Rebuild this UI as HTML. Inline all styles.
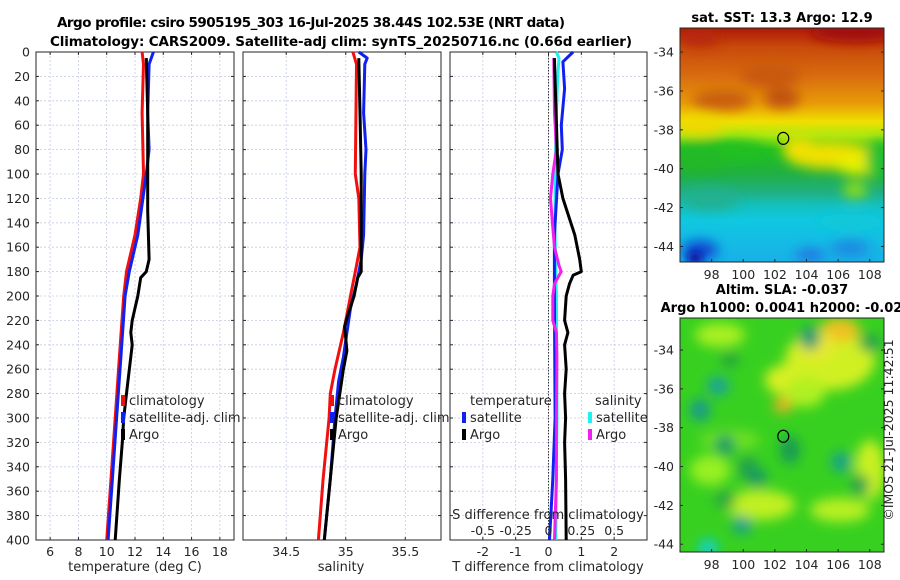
<!DOCTYPE html>
<html><head><meta charset="utf-8">
<style>
html,body{margin:0;padding:0;background:#fff;}
svg{display:block;font-family:"DejaVu Sans","Liberation Sans",sans-serif;}
</style></head>
<body>
<svg id="fig" width="900" height="580" viewBox="0 0 900 580" xmlns="http://www.w3.org/2000/svg">
<defs>
<filter id="blur6" x="-50%" y="-50%" width="200%" height="200%"><feGaussianBlur stdDeviation="6"/></filter>
<filter id="blur4" x="-50%" y="-50%" width="200%" height="200%"><feGaussianBlur stdDeviation="4"/></filter>
<linearGradient id="sstGrad" x1="0" y1="0" x2="0" y2="1">
<stop offset="0" stop-color="#b01808"/>
<stop offset="0.08" stop-color="#c84a0a"/>
<stop offset="0.2" stop-color="#d86a10"/>
<stop offset="0.32" stop-color="#e89a08"/>
<stop offset="0.4" stop-color="#f0e000"/>
<stop offset="0.46" stop-color="#a8e810"/>
<stop offset="0.52" stop-color="#20c020"/>
<stop offset="0.62" stop-color="#20b040"/>
<stop offset="0.7" stop-color="#20b080"/>
<stop offset="0.76" stop-color="#14c0c0"/>
<stop offset="0.82" stop-color="#10c8e0"/>
<stop offset="1" stop-color="#18b0e8"/>
</linearGradient>
<clipPath id="clipTop"><rect x="680" y="28" width="204" height="234"/></clipPath>
<clipPath id="clipBot"><rect x="680" y="318" width="204" height="234"/></clipPath>
</defs>
<g id="title">
<text x="311" y="27" font-size="13.5" font-weight="bold" text-anchor="middle" textLength="508">Argo profile: csiro 5905195_303 16-Jul-2025 38.44S 102.53E (NRT data)</text>
<text x="341" y="46" font-size="13.5" font-weight="bold" text-anchor="middle" textLength="582">Climatology: CARS2009. Satellite-adj clim: synTS_20250716.nc (0.66d earlier)</text>
</g>
<g id="panels"></g>
<g id="maps"></g>
</svg>
<script>
// ---------- data ----------
const depthTicks = [0,20,40,60,80,100,120,140,160,180,200,220,240,260,280,300,320,340,360,380,400];
const tempTicks = [6,8,10,12,14,16,18];
const salTicks = [34.5,35,35.5];
const tdiffTicks = [-2,-1,0,1,2];
const sdiffTickLabels = ['-0.5','-0.25','0','0.25','0.5'];
const sdiffTickValues = [-0.5,-0.25,0,0.25,0.5];

const tClimDepth = [0,10,50,100,120,150,180,200,250,300,350,400];
const tClimVal   = [12.5,12.6,12.5,12.6,12.4,12.0,11.4,11.2,10.9,10.6,10.3,10.0];
const tSatDepth  = [0,10,50,80,100,150,180,200,250,300,350,400];
const tSatVal    = [13.3,13.0,12.9,13.0,12.8,12.2,11.6,11.3,11.0,10.7,10.4,10.1];
const tArgoDepth = [5,50,100,130,170,180,185,200,210,220,230,240,250,270,300,320,350,400];
const tArgoVal   = [12.8,12.9,12.9,12.9,13.0,12.8,12.4,12.2,12.0,11.8,11.7,11.8,11.7,11.5,11.2,11.1,10.9,10.6];

const sClimDepth = [0,10,100,120,160,180,200,230,260,280,300,350,400];
const sClimVal   = [35.06,35.09,35.08,35.11,35.12,35.08,35.04,34.98,34.91,34.87,34.86,34.81,34.77];
const sSatDepth  = [0,5,10,50,80,100,150,170,190,210,230,250,270,300,350,400];
const sSatVal    = [35.11,35.18,35.16,35.15,35.17,35.16,35.15,35.13,35.09,35.04,35.01,34.98,34.94,34.91,34.87,34.82];
const sArgoDepth = [5,50,100,150,180,185,200,215,225,235,245,260,280,300,350,400];
const sArgoVal   = [35.11,35.12,35.13,35.13,35.13,35.10,35.07,35.02,34.99,35.0,35.01,34.98,34.95,34.92,34.87,34.82];

const dtSatDepth  = [0,8,30,60,80,100,150,200,300,350,400];
const dtSatVal    = [0.75,0.44,0.49,0.39,0.42,0.29,0.18,0.18,0.2,0.13,0.03];
const dtArgoDepth = [5,50,100,120,150,170,180,183,190,200,220,230,240,260,280,300,320,350,400];
const dtArgoVal   = [0.18,0.23,0.29,0.44,0.80,0.95,1.0,0.75,0.64,0.54,0.49,0.59,0.49,0.54,0.49,0.52,0.49,0.52,0.54];
const dsSatDepth  = [0,5,20,50,100,150,200,300,400];
const dsSatVal    = [0.06,0.08,0.07,0.06,0.05,0.05,0.06,0.065,0.055];
const dsArgoDepth = [5,50,80,100,120,140,160,175,180,190,200,220,230,250,300,350,400];
const dsArgoVal   = [0.04,0.046,0.06,0.033,0.015,0.03,0.046,0.08,0.097,0.046,0.033,0.033,0.06,0.064,0.06,0.06,0.046];

const lonTicks = [98,100,102,104,106,108];
const latTicks = [-34,-36,-38,-40,-42,-44];
const argoLon = 102.53, argoLat = -38.44;

// ---------- helpers ----------
const NS = 'http://www.w3.org/2000/svg';
function mk(tag, attrs, parent){const e=document.createElementNS(NS,tag);for(const k in attrs)e.setAttribute(k,attrs[k]);parent.appendChild(e);return e;}
const Y0=52, Y1=540;
const yD = d => Y0 + (d/400)*(Y1-Y0);
const panelsG = document.getElementById('panels');

function panel(name, x0, x1, xmin, xmax, xticks, xlabels, showDepth){
  const g = mk('g',{},panelsG);
  
  
  const xs = v => x0 + (v-xmin)/(xmax-xmin)*(x1-x0);
  depthTicks.forEach(d=>{ if(d>0&&d<400) mk('line',{x1:x0,x2:x1,y1:yD(d),y2:yD(d),stroke:'#c4cbe4','stroke-width':0.8,'stroke-dasharray':'2,2'},g);});
  xticks.forEach(v=>mk('line',{x1:xs(v),x2:xs(v),y1:Y0,y2:Y1,stroke:'#c4cbe4','stroke-width':0.8,'stroke-dasharray':'2,2'},g));
  depthTicks.forEach(d=>{mk('line',{x1:x0,x2:x0+3,y1:yD(d),y2:yD(d),stroke:'#262626'},g);mk('line',{x1:x1,x2:x1-3,y1:yD(d),y2:yD(d),stroke:'#262626'},g);});
  xticks.forEach((v,i)=>{
    mk('line',{x1:xs(v),x2:xs(v),y1:Y1,y2:Y1-3,stroke:'#262626'},g);
    mk('line',{x1:xs(v),x2:xs(v),y1:Y0,y2:Y0+3,stroke:'#262626'},g);
    const t=mk('text',{x:xs(v),y:Y1+16,'font-size':12.5,'text-anchor':'middle',fill:'#262626'},g);
    t.textContent = xlabels ? xlabels[i] : String(v);
    
    
  });
  if(showDepth){
    depthTicks.forEach(d=>{const t=mk('text',{x:x0-6,y:yD(d)+4.5,'font-size':12.5,'text-anchor':'end',fill:'#262626'},g);t.textContent=String(d);
      
      });
  }
  mk('rect',{x:x0,y:Y0,width:x1-x0,height:Y1-Y0,fill:'none',stroke:'#262626','stroke-width':1},g);
  return {g,xs};
}
function series(p, depths, vals, color, name, w){
  const pts = depths.map((d,i)=>p.xs(vals[i]).toFixed(1)+','+yD(d).toFixed(1)).join(' ');
  const l = mk('polyline',{points:pts,fill:'none',stroke:color,'stroke-width':w||3,'stroke-linejoin':'round'},p.g);
  
  
}
function legendItem(g, x, y, color, label, name){
  mk('rect',{x:x-2,y:y-10,width:4,height:11,fill:color},g);
  const t=mk('text',{x:x+6,y:y,'font-size':13,fill:'#262626'},g);
  t.textContent=label;
  
  
}
function label(g,x,y,txt,name){const t=mk('text',{x:x,y:y,'font-size':13,'text-anchor':'middle',fill:'#262626'},g);t.textContent=txt;
  
  return t;}

// ---------- temperature panel ----------
const pT = panel('temperature-panel',36,234,5,19,tempTicks,null,true);
series(pT,tClimDepth,tClimVal,'#f01010','temp-climatology-line');
series(pT,tSatDepth,tSatVal,'#1020f0','temp-satellite-line');
series(pT,tArgoDepth,tArgoVal,'#000000','temp-argo-line');
label(pT.g,135,571,'temperature (deg C)','temperature-axis-title');
legendItem(pT.g,123,405,'#f01010','climatology','legend-climatology');
legendItem(pT.g,123,422,'#1020f0','satellite-adj. clim','legend-satellite-adj');
legendItem(pT.g,123,439,'#000000','Argo','legend-argo');

// ---------- salinity panel ----------
const pS = panel('salinity-panel',243,441,34.137,35.8,salTicks,null,false);
series(pS,sClimDepth,sClimVal,'#f01010','sal-climatology-line');
series(pS,sSatDepth,sSatVal,'#1020f0','sal-satellite-line');
series(pS,sArgoDepth,sArgoVal,'#000000','sal-argo-line');
label(pS.g,341,571,'salinity','salinity-axis-title');
legendItem(pS.g,332,405,'#f01010','climatology','legend-climatology-s');
legendItem(pS.g,332,422,'#1020f0','satellite-adj. clim','legend-satellite-adj-s');
legendItem(pS.g,332,439,'#000000','Argo','legend-argo-s');

// ---------- difference panel ----------
const pD = panel('difference-panel',450,647,-3,3,tdiffTicks,null,false);
mk('line',{x1:pD.xs(0),x2:pD.xs(0),y1:Y0,y2:Y1,stroke:'#333','stroke-width':1,'stroke-dasharray':'1.5,1.5'},pD.g);
const sx = v => v*4;
series(pD,dsSatDepth,dsSatVal.map(sx),'#20f0f0','sdiff-satellite-line');
series(pD,dtSatDepth,dtSatVal,'#1020f0','tdiff-satellite-line');
series(pD,dsArgoDepth,dsArgoVal.map(sx),'#f020f0','sdiff-argo-line');
series(pD,dtArgoDepth,dtArgoVal,'#000000','tdiff-argo-line');
label(pD.g,548,571,'T difference from climatology','tdiff-axis-title');
label(pD.g,548,519,'S difference from climatology','sdiff-axis-title');
sdiffTickValues.forEach((v,i)=>{const t=mk('text',{x:pD.xs(sx(v)),y:535,'font-size':12.5,'text-anchor':'middle',fill:'#262626'},pD.g);t.textContent=sdiffTickLabels[i];
  
  });
{const t=mk('text',{x:470,y:405,'font-size':13,fill:'#262626'},pD.g);t.textContent='temperature';
 
 }
{const t=mk('text',{x:595,y:405,'font-size':13,fill:'#262626'},pD.g);t.textContent='salinity';
 
 }
legendItem(pD.g,464,422,'#1020f0','satellite','legend-t-satellite');
legendItem(pD.g,464,439,'#000000','Argo','legend-t-argo');
legendItem(pD.g,590,422,'#20f0f0','satellite','legend-s-satellite');
legendItem(pD.g,590,439,'#f020f0','Argo','legend-s-argo');

// ---------- maps ----------
const mapsG = document.getElementById('maps');
function mapFrame(name, y0, y1, latTop, latBot, lonL, lonR, title1, title2, clip, drawFill){
  const g = mk('g',{},mapsG);
  
  
  const x0=680,x1=884;
  const xs = lo => x0+(lo-lonL)/(lonR-lonL)*(x1-x0);
  const ys = la => y0+(latTop-la)/(latTop-latBot)*(y1-y0);
  const fg = mk('g',{'clip-path':'url(#'+clip+')'},g);
  drawFill(fg,x0,y0,x1,y1,xs,ys);
  lonTicks.forEach(lo=>{mk('line',{x1:xs(lo),x2:xs(lo),y1:y1,y2:y1-3,stroke:'#262626'},g);
    const t=mk('text',{x:xs(lo),y:y1+17,'font-size':12.5,'text-anchor':'middle',fill:'#262626'},g);t.textContent=String(lo);
    
    });
  latTicks.forEach(la=>{mk('line',{x1:x0,x2:x0+3,y1:ys(la),y2:ys(la),stroke:'#262626'},g);mk('line',{x1:x1,x2:x1-3,y1:ys(la),y2:ys(la),stroke:'#262626'},g);
    const t=mk('text',{x:x0-6,y:ys(la)+4.5,'font-size':12.5,'text-anchor':'end',fill:'#262626'},g);t.textContent=String(la);
    
    });
  mk('rect',{x:x0,y:y0,width:x1-x0,height:y1-y0,fill:'none',stroke:'#262626'},g);
  const c=mk('ellipse',{cx:xs(argoLon),cy:ys(argoLat),rx:5.5,ry:6,fill:'none',stroke:'#000','stroke-width':1.2},g);
  
  
  if(title1){const t=mk('text',{x:782,y:y0-(title2?24:6),'font-size':13,'font-weight':'bold','text-anchor':'middle',fill:'#000'},g);t.textContent=title1;
    
    }
  if(title2){const t=mk('text',{x:786,y:y0-6,'font-size':13,'font-weight':'bold','text-anchor':'middle',fill:'#000'},g);t.textContent=title2;
    
    }
  return {g,xs,ys};
}
const sstMap = mapFrame('sst-map',28,262,-32.76,-44.8,96.0,108.9,'sat. SST: 13.3 Argo: 12.9',null,'clipTop',(fg,x0,y0,x1,y1)=>{
  mk('rect',{x:x0,y:y0,width:x1-x0,height:y1-y0,fill:'url(#sstGrad)'},fg);
  const b=mk('g',{filter:'url(#blur6)'},fg);
  [[855,32,45,10,'#a00808'],[700,38,20,8,'#b82808'],[722,100,30,10,'#c85c10'],[782,98,18,10,'#c05008'],[770,75,30,12,'#c85810'],
   [700,125,22,10,'#f0d800'],[720,150,45,10,'#20c020'],[700,160,25,12,'#20b828'],
   [830,155,45,14,'#f0e000'],[800,148,18,12,'#f0e000'],[860,165,25,10,'#e8f000'],[878,160,12,20,'#20c030'],
   [855,190,12,8,'#90e010'],[710,200,30,10,'#20b090'],[850,222,35,8,'#10c8d8'],
   [700,250,18,9,'#1040d0'],[850,248,20,8,'#1c88e0'],[810,255,15,6,'#2070e0']]
   .forEach(e=>mk('ellipse',{cx:e[0],cy:e[1],rx:e[2],ry:e[3],fill:e[4]},b));
  mk('ellipse',{cx:695,cy:258,rx:8,ry:6,fill:'#0a10a0',filter:'url(#blur4)'},fg);
});
const slaMap = mapFrame('sla-map',318,552,-32.35,-44.4,96.0,108.9,'Altim. SLA: -0.037','Argo h1000: 0.0041 h2000: -0.025','clipBot',(fg,x0,y0,x1,y1)=>{
  mk('rect',{x:x0,y:y0,width:x1-x0,height:y1-y0,fill:'#38d020'},fg);
  const b=mk('g',{filter:'url(#blur6)'},fg);
  [[830,360,45,30,'#d0f020'],[840,330,20,12,'#f0c020'],[815,345,20,15,'#e8e830'],[785,380,20,15,'#d8f020'],[783,405,9,8,'#f0b020'],
   [720,335,25,12,'#a8f020'],[870,470,15,30,'#c8f020'],[760,505,35,15,'#c0f020'],[840,510,30,12,'#b8f020'],[710,470,20,15,'#98f020'],
   [805,392,20,15,'#b0f020'],[730,440,30,10,'#70e020'],
   [810,338,10,12,'#189878'],[718,386,11,9,'#18a0a0'],[700,410,10,11,'#189890'],[725,445,10,10,'#189868'],[790,450,10,14,'#189858'],
   [748,468,10,12,'#20a050'],[758,478,9,9,'#189868'],[841,462,10,10,'#18a090'],[860,485,9,11,'#20a050'],[708,548,10,9,'#10d0d0'],
   [742,525,10,9,'#18a090'],[725,500,11,9,'#28a840'],[730,360,9,7,'#22a040'],[870,343,11,9,'#28a050']]
   .forEach(e=>mk('ellipse',{cx:e[0],cy:e[1],rx:e[2],ry:e[3],fill:e[4]},b));
});
{const t=mk('text',{x:0,y:0,'font-size':12.5,'text-anchor':'middle',fill:'#262626',transform:'translate(893,430) rotate(-90)'},mapsG);
 t.textContent='©IMOS 21-Jul-2025 11:42:51';
 
 }
</script>
</body></html>
